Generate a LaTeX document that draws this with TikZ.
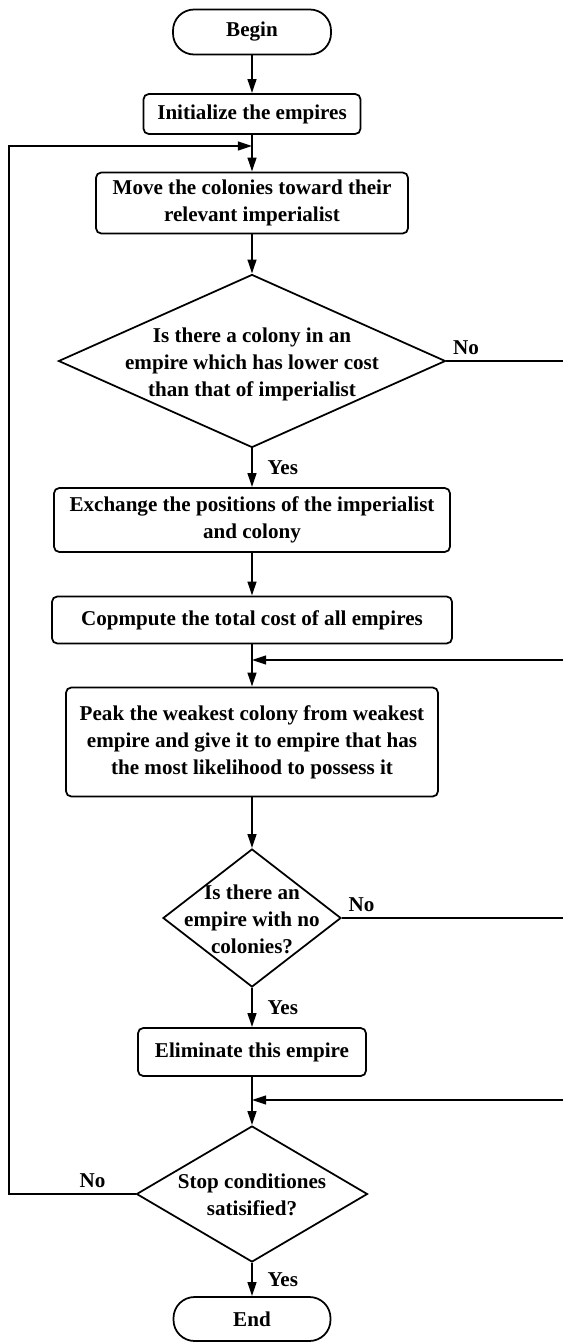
\documentclass[tikz,border=0pt]{standalone}
\usepackage{fontspec}
\setmainfont{Liberation Serif}
\usetikzlibrary{shapes.geometric,arrows.meta,positioning}
\newcommand{\dtext}[1]{\makebox[0pt]{\smash{\raisebox{-4.7pt}{\begin{tabular}{@{}c@{}}#1\end{tabular}}}}}

\tikzset{
  flowbox/.style={draw, rectangle, rounded corners=3pt, align=center, inner sep=0pt},
  term/.style={draw, rectangle, rounded corners=12pt, inner sep=0pt},
  decision/.style={draw, diamond, inner sep=0pt},
  arr/.style={-{Triangle[length=8pt,width=5pt]}}
}

\begin{document}
\begin{tikzpicture}[x=0.2mm, y=-0.2mm, font=\fontsize{12}{15.4}\selectfont\bfseries, line width=1pt]

        \useasboundingbox (0,0) rectangle (563,1342);

        \node (begin) at (252,32) [term, minimum width=31.6mm, minimum height=9mm] {Begin};
        \node (init) at (252,114) [flowbox, minimum width=43.4mm, minimum height=8mm] {Initialize the empires};
        \node (move) at (252,203) [flowbox, minimum width=62.4mm, minimum height=12.2mm] {Move the colonies toward their\\relevant imperialist};
        \node (d1) at (252,361) [decision, minimum width=77.4mm, minimum height=34.6mm] {\dtext{Is there a colony in an\\empire which has lower cost\\than that of imperialist}};
        \node (exch) at (252,520) [flowbox, minimum width=79.2mm, minimum height=12.8mm] {Exchange the positions of the imperialist\\and colony};
        \node (comp) at (252,620) [flowbox, minimum width=80mm, minimum height=9.4mm] {Copmpute the total cost of all empires};
        \node (peak) at (252,742) [flowbox, minimum width=74.4mm, minimum height=21.8mm] {Peak the weakest colony from weakest\\empire and give it to empire that has\\the most likelihood to possess it};
        \node (d2) at (252,918) [decision, minimum width=35.6mm, minimum height=27.6mm] {\dtext{Is there an\\empire with no\\colonies?}};
        \node (elim) at (252,1052) [flowbox, minimum width=45.6mm, minimum height=9.6mm] {Eliminate this empire};
        \node (d3) at (252,1194) [decision, minimum width=46.2mm, minimum height=27.2mm] {\dtext{Stop conditiones\\satisified?}};
        \node (end) at (252,1319) [term, minimum width=31.4mm, minimum height=8.8mm] {End};

        \coordinate (redge) at (563,0);
        \coordinate (in1) at (563,660);
        \coordinate (in2) at (563,1100);
        \coordinate (loopc) at (9,146);

        \draw[arr] (begin) -- (init);
        \draw[arr] (init) -- (move);
        \draw[arr] (move) -- (d1);
        \draw (d1.east) -- node[pos=0, anchor=south west] {No} (d1.east -| redge);
        \draw[arr] (d1) -- node[right=5pt] {Yes} (exch);
        \draw[arr] (exch) -- (comp);
        \draw[arr] (comp) -- (peak);
        \draw[arr] (in1) -- (in1 -| comp.south);
        \draw[arr] (peak) -- (d2);
        \draw (d2.east) -- node[pos=0, anchor=south west] {No} (d2.east -| redge);
        \draw[arr] (d2) -- node[right=5pt] {Yes} (elim);
        \draw[arr] (elim) -- (d3);
        \draw[arr] (in2) -- (in2 -| elim.south);
        \draw[arr] (d3) -- node[right=5pt] {Yes} (end);
        % back to the top
        \draw[arr] (d3.west) -- node[pos=.34, above] {No} (d3.west -| loopc) -- (loopc) -- (loopc -| move.north);

\end{tikzpicture}
\end{document}
